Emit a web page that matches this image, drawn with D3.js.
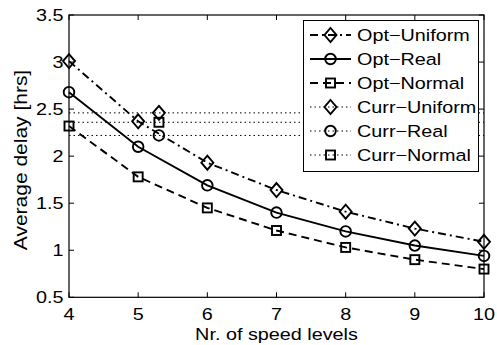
<!DOCTYPE html>
<html>
<head>
<meta charset="utf-8">
<script src="https://cdn.jsdelivr.net/npm/d3@7"></script>
<style>
  body { margin: 0; background: #fff; }
  svg { display: block; }
  text { font-family: "Liberation Sans", Arial, sans-serif; fill: #000; }
</style>
</head>
<body>
<div id="chart"></div>
<script>
// data
const speedLevels = [4, 5, 6, 7, 8, 9, 10];
const optUniform = [3.01, 2.37, 1.93, 1.64, 1.41, 1.23, 1.09];
const optReal    = [2.68, 2.10, 1.69, 1.40, 1.20, 1.05, 0.94];
const optNormal  = [2.32, 1.78, 1.45, 1.21, 1.03, 0.90, 0.80];
const currLevel = 5.3;
const currUniform = 2.46;
const currReal = 2.22;
const currNormal = 2.36;
const xTickValues = [4, 5, 6, 7, 8, 9, 10];
const yTickValues = [0.5, 1, 1.5, 2, 2.5, 3, 3.5];
const yTickLabels = ["0.5", "1", "1.5", "2", "2.5", "3", "3.5"];
const seriesNames = ["Opt\u2212Uniform", "Opt\u2212Real", "Opt\u2212Normal", "Curr\u2212Uniform", "Curr\u2212Real", "Curr\u2212Normal"];

const width = 497, height = 345;
const margin = {left: 69, right: 13, top: 15, bottom: 47.7};
const sx = 1.2; // text is drawn wider than normal

const x = d3.scaleLinear().domain([4, 10]).range([margin.left, width - margin.right]);
const y = d3.scaleLinear().domain([0.5, 3.5]).range([height - margin.bottom, margin.top]);

const svg = d3.select("#chart").append("svg")
  .attr("width", width)
  .attr("height", height);

const dashes = {solid: null, dashed: "8,5", dashdot: "8,4,2,4", dotted: "1.5,3"};

const series = [
  {name: seriesNames[0], values: optUniform, style: "dashdot", marker: "diamond"},
  {name: seriesNames[1], values: optReal, style: "solid", marker: "circle"},
  {name: seriesNames[2], values: optNormal, style: "dashed", marker: "square"},
  {name: seriesNames[3], level: currUniform, style: "dotted", marker: "diamond"},
  {name: seriesNames[4], level: currReal, style: "dotted", marker: "circle"},
  {name: seriesNames[5], level: currNormal, style: "dotted", marker: "square"}
];

function drawMarker(g, type, cx, cy) {
  if (type === "diamond") {
    g.append("path")
      .attr("d", `M${cx},${cy - 7}L${cx + 6},${cy}L${cx},${cy + 7}L${cx - 6},${cy}Z`);
  } else if (type === "circle") {
    g.append("circle").attr("cx", cx).attr("cy", cy).attr("r", 5.3);
  } else {
    g.append("rect").attr("x", cx - 4.5).attr("y", cy - 4.5).attr("width", 9).attr("height", 9);
  }
}

// axes box
svg.append("rect")
  .attr("x", x(4)).attr("y", y(3.5))
  .attr("width", x(10) - x(4)).attr("height", y(0.5) - y(3.5))
  .attr("fill", "none").attr("stroke", "#000").attr("stroke-width", 1.2);

// ticks, pointing inward on all four sides
const tickLen = 5;
const ticks = svg.append("g").attr("stroke", "#000").attr("stroke-width", 1);
xTickValues.forEach(v => {
  ticks.append("line").attr("x1", x(v)).attr("x2", x(v)).attr("y1", y(0.5)).attr("y2", y(0.5) - tickLen);
  ticks.append("line").attr("x1", x(v)).attr("x2", x(v)).attr("y1", y(3.5)).attr("y2", y(3.5) + tickLen);
});
yTickValues.forEach(v => {
  ticks.append("line").attr("x1", x(4)).attr("x2", x(4) + tickLen).attr("y1", y(v)).attr("y2", y(v));
  ticks.append("line").attr("x1", x(10)).attr("x2", x(10) - tickLen).attr("y1", y(v)).attr("y2", y(v));
});

// tick labels
svg.append("g").selectAll("text")
  .data(xTickValues)
  .enter().append("text")
  .attr("transform", d => `translate(${x(d)},320) scale(${sx},1)`)
  .attr("text-anchor", "middle")
  .attr("font-size", 16.5)
  .text(d => d);

svg.append("g").selectAll("text")
  .data(yTickValues)
  .enter().append("text")
  .attr("transform", d => `translate(63.5,${y(d)}) scale(${sx},1)`)
  .attr("text-anchor", "end")
  .attr("dy", "0.36em")
  .attr("font-size", 16.5)
  .text((d, i) => yTickLabels[i]);

// axis titles
svg.append("text")
  .attr("transform", `translate(${(x(4) + x(10)) / 2},340) scale(${sx},1)`)
  .attr("text-anchor", "middle")
  .attr("font-size", 16.5)
  .text("Nr. of speed levels");

svg.append("text")
  .attr("transform", `translate(26.5,160) rotate(-90) scale(${sx},1)`)
  .attr("text-anchor", "middle")
  .attr("font-size", 17.5)
  .text("Average delay [hrs]");

// lines and markers
const line = d3.line().x((d, i) => x(speedLevels[i])).y(d => y(d));
const plot = svg.append("g")
  .attr("fill", "none").attr("stroke", "#000").attr("stroke-width", 1.9);

series.forEach(s => {
  if (s.values) {
    plot.append("path")
      .attr("d", line(s.values))
      .attr("stroke-dasharray", dashes[s.style]);
    s.values.forEach((v, i) => drawMarker(plot, s.marker, x(speedLevels[i]), y(v)));
  } else {
    plot.append("line")
      .attr("x1", x(4)).attr("x2", x(10))
      .attr("y1", y(s.level)).attr("y2", y(s.level))
      .attr("stroke-width", 1)
      .attr("stroke-dasharray", dashes[s.style]);
    drawMarker(plot, s.marker, x(currLevel), y(s.level));
  }
});

// legend
const legend = svg.append("g");
legend.append("rect")
  .attr("x", 303.5).attr("y", 20.5)
  .attr("width", 175).attr("height", 151)
  .attr("fill", "#fff").attr("stroke", "#000").attr("stroke-width", 1);

series.forEach((s, i) => {
  const ly = 35 + i * 24;
  const g = legend.append("g")
    .attr("fill", "none").attr("stroke", "#000").attr("stroke-width", 1.9);
  g.append("line")
    .attr("x1", 310).attr("x2", 351)
    .attr("y1", ly).attr("y2", ly)
    .attr("stroke-width", s.style === "dotted" ? 1 : 1.9)
    .attr("stroke-dasharray", dashes[s.style]);
  drawMarker(g, s.marker, 330.5, ly);
  legend.append("text")
    .attr("transform", `translate(357,${ly}) scale(${sx},1)`)
    .attr("dy", "0.36em")
    .attr("font-size", 16.5)
    .text(s.name);
});
</script>
</body>
</html>
